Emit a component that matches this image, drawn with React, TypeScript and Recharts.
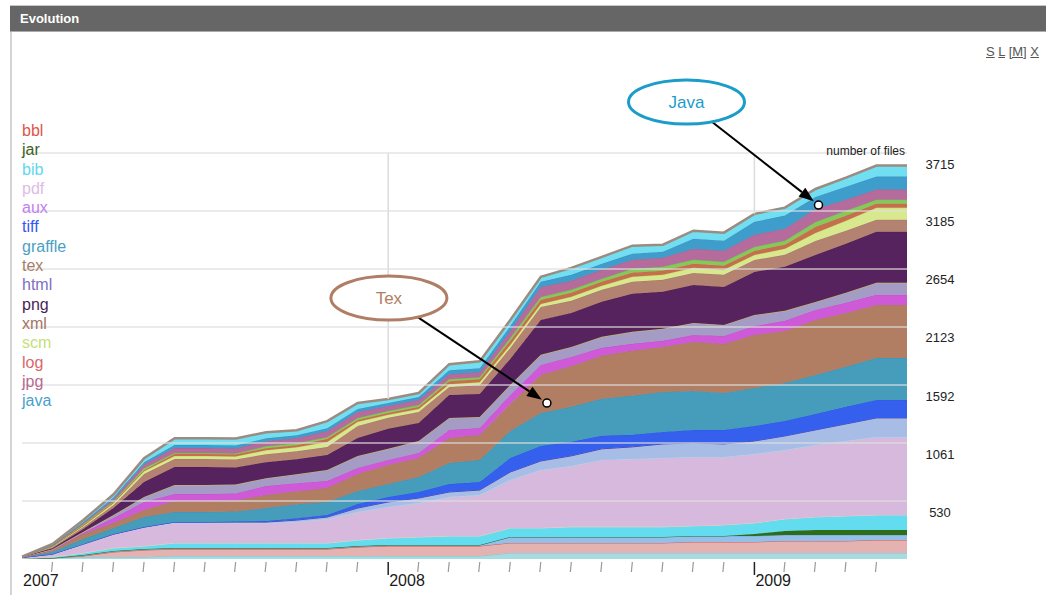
import React from "react";
import { AreaChart, Area, XAxis, YAxis, ReferenceLine, ReferenceDot } from "recharts";

// one point per month, Jan 2007 .. Jun 2009
const months = [
  "2007-01", "2007-02", "2007-03", "2007-04", "2007-05", "2007-06",
  "2007-07", "2007-08", "2007-09", "2007-10", "2007-11", "2007-12",
  "2008-01", "2008-02", "2008-03", "2008-04", "2008-05", "2008-06",
  "2008-07", "2008-08", "2008-09", "2008-10", "2008-11", "2008-12",
  "2009-01", "2009-02", "2009-03", "2009-04", "2009-05", "2009-06",
];
const yTicks = [530, 1061, 1592, 2123, 2654, 3185, 3715];

// number of files per type, bottom of the stack first
const misc1 = [5, 9, 18, 18, 18, 27, 27, 27, 27, 27, 27, 27, 27, 27, 27, 27, 55, 55, 55, 55, 55, 55, 55, 55, 55, 55, 55, 55, 55, 55];
const bbl = [0, 0, 9, 46, 64, 64, 64, 64, 64, 64, 64, 82, 92, 92, 92, 92, 92, 92, 92, 92, 92, 92, 101, 101, 101, 110, 110, 110, 119, 119];
const misc2 = [0, 0, 9, 9, 9, 9, 9, 9, 9, 9, 9, 9, 9, 9, 9, 9, 55, 55, 55, 55, 55, 55, 55, 55, 55, 55, 55, 55, 46, 46];
const jar = [0, 0, 0, 0, 0, 0, 0, 0, 0, 0, 0, 0, 0, 0, 0, 0, 0, 0, 0, 0, 0, 0, 0, 0, 18, 37, 46, 46, 46, 46];
const bib = [0, 9, 18, 27, 27, 46, 46, 46, 46, 46, 46, 55, 64, 73, 82, 82, 82, 82, 92, 92, 92, 92, 92, 101, 101, 110, 119, 128, 137, 137];
const pdf = [9, 27, 82, 128, 174, 183, 183, 183, 183, 192, 220, 256, 284, 311, 357, 375, 439, 531, 558, 613, 622, 631, 631, 622, 631, 631, 659, 686, 714, 714];
const misc3 = [0, 0, 0, 0, 0, 9, 9, 9, 9, 18, 18, 37, 46, 46, 46, 46, 73, 82, 92, 101, 110, 128, 128, 119, 119, 128, 137, 156, 174, 174];
const tiff = [0, 0, 0, 0, 0, 0, 0, 5, 9, 18, 18, 37, 46, 55, 73, 73, 128, 137, 128, 119, 110, 110, 119, 128, 137, 137, 146, 156, 165, 165];
const graffle = [2, 18, 46, 55, 92, 92, 92, 92, 119, 128, 119, 119, 119, 137, 192, 201, 247, 302, 320, 339, 357, 366, 357, 339, 348, 348, 357, 366, 384, 384];
const tex = [2, 18, 46, 46, 64, 101, 101, 101, 119, 119, 128, 156, 174, 174, 229, 229, 247, 348, 375, 393, 412, 412, 448, 448, 485, 476, 503, 494, 485, 485];
const aux = [0, 0, 9, 46, 73, 64, 64, 64, 82, 73, 64, 55, 46, 46, 73, 64, 82, 92, 82, 73, 64, 55, 64, 73, 82, 92, 92, 92, 92, 92];
const html = [0, 9, 9, 27, 46, 82, 82, 82, 73, 82, 101, 110, 101, 110, 110, 101, 92, 92, 92, 101, 110, 110, 110, 101, 101, 92, 73, 92, 110, 110];
const png = [2, 9, 27, 64, 137, 165, 165, 156, 146, 137, 137, 165, 183, 165, 210, 210, 238, 320, 311, 320, 348, 339, 348, 348, 393, 403, 430, 448, 467, 467];
const xml = [0, 9, 18, 27, 73, 73, 73, 73, 73, 73, 73, 110, 101, 101, 73, 82, 101, 119, 110, 110, 110, 110, 110, 110, 110, 110, 128, 119, 110, 110];
const scm = [0, 5, 9, 18, 27, 27, 27, 27, 37, 37, 46, 37, 27, 27, 27, 27, 27, 27, 37, 37, 46, 46, 46, 46, 46, 55, 73, 92, 110, 110];
const log = [0, 5, 9, 9, 9, 18, 18, 18, 18, 18, 27, 18, 18, 18, 27, 27, 37, 37, 37, 37, 37, 37, 37, 37, 37, 37, 55, 46, 37, 37];
const misc4 = [0, 0, 9, 9, 18, 9, 9, 9, 18, 18, 18, 18, 18, 18, 18, 18, 27, 27, 27, 27, 37, 37, 37, 37, 37, 37, 46, 46, 37, 37];
const jpg = [0, 5, 9, 18, 37, 46, 46, 46, 46, 46, 55, 55, 46, 46, 46, 46, 64, 92, 82, 82, 82, 82, 101, 101, 110, 110, 119, 101, 92, 92];
const java = [0, 5, 9, 18, 18, 27, 27, 27, 27, 27, 27, 27, 27, 27, 37, 37, 46, 46, 55, 55, 55, 55, 92, 92, 119, 119, 110, 119, 119, 119];
const misc5 = [2, 9, 18, 27, 37, 64, 64, 64, 55, 46, 64, 55, 37, 37, 55, 64, 55, 46, 64, 64, 73, 64, 73, 73, 73, 73, 73, 82, 101, 101];

const legendNames = ["bbl", "jar", "bib", "pdf", "aux", "tiff", "graffle", "tex", "html", "png", "xml", "scm", "log", "jpg", "java"];
const legendColors = ["#df5548", "#3d5f1e", "#62d8ee", "#dbbde5", "#c27ff0", "#3556f5", "#4a9fc5", "#a57e66", "#7d6fc4", "#4b1f55", "#a5735f", "#c6e07a", "#d7696b", "#b8688e", "#4b9fcc"];

const series = [
  { key: "misc1", values: misc1, fill: "#a6dbe2", stroke: "#7cc8d3" },
  { key: "bbl", values: bbl, fill: "#e4b3b1", stroke: "#d0524c" },
  { key: "misc2", values: misc2, fill: "#93bfe9", stroke: "#6aa6e0" },
  { key: "jar", values: jar, fill: "#2e6c18", stroke: "#2e6c18" },
  { key: "bib", values: bib, fill: "#62dcee", stroke: "#e2d6b8" },
  { key: "pdf", values: pdf, fill: "#d6b9dd", stroke: "#a9d8ec" },
  { key: "misc3", values: misc3, fill: "#a8bde6", stroke: "#5b3f98" },
  { key: "tiff", values: tiff, fill: "#3560ee", stroke: "#2b55e8" },
  { key: "graffle", values: graffle, fill: "#459dbb", stroke: "#3f93b2" },
  { key: "tex", values: tex, fill: "#b17e64", stroke: "#a87560" },
  { key: "aux", values: aux, fill: "#cf5ad8", stroke: "#c04fd0" },
  { key: "html", values: html, fill: "#a49cc4", stroke: "#c9c24a" },
  { key: "png", values: png, fill: "#57235f", stroke: "#4b1d52" },
  { key: "xml", values: xml, fill: "#b38270", stroke: "#a67665" },
  { key: "scm", values: scm, fill: "#d7e88f", stroke: "#c8dd6a" },
  { key: "log", values: log, fill: "#c4704c", stroke: "#d95f4f" },
  { key: "misc4", values: misc4, fill: "#86c85a", stroke: "#62c840" },
  { key: "jpg", values: jpg, fill: "#b56b9b", stroke: "#a95e90" },
  { key: "java", values: java, fill: "#3f9dcb", stroke: "#3a93c2" },
  { key: "misc5", values: misc5, fill: "#72def1", stroke: "#9c8b80" },
];

const data = months.map((month, i) => {
  const row: Record<string, number | string> = { idx: i, month };
  series.forEach((s) => (row[s.key] = s.values[i]));
  return row;
});

const totals = months.map((_, i) => series.reduce((sum, s) => sum + s.values[i], 0));
const yearStarts = months.map((m, i) => (m.endsWith("-01") ? i : -1)).filter((i) => i > 0);

const FONT = "'Liberation Sans', Arial, sans-serif";

function MonthTick(props: any) {
  const { x, y, payload } = props;
  const m = months[payload.value];
  const isYear = m.endsWith("-01");
  return (
    <g>
      {payload.value > 0 && (
        <line
          x1={x}
          y1={y - 5}
          x2={isYear ? x : x - 1}
          y2={isYear ? y + 8 : y + 5}
          stroke={isYear ? "#222" : "#999"}
          strokeWidth={isYear ? 1.5 : 1.2}
        />
      )}
      {isYear && (
        <text x={x + 1} y={y + 19} fontSize={16} fill="#1a1a1a" fontFamily={FONT}>
          {m.slice(0, 4)}
        </text>
      )}
    </g>
  );
}

function ValueTick(props: any) {
  const { x, y, payload } = props;
  return (
    <text x={x + 25} y={y + 11} textAnchor="middle" dominantBaseline="central" fontSize={13} fill="#222" fontFamily={FONT}>
      {payload.value}
    </text>
  );
}

function callout(label: string, color: string, dx: number, dy: number) {
  return (props: any) => {
    const { cx, cy } = props;
    const ex = cx + dx;
    const ey = cy + dy;
    const rx = 58;
    const ry = 22;
    const t = Math.atan2((cy - ey) / ry, (cx - ex) / rx);
    const sx = ex + rx * Math.cos(t);
    const sy = ey + ry * Math.sin(t);
    const a = Math.atan2(cy - sy, cx - sx);
    const tipX = cx - 6 * Math.cos(a);
    const tipY = cy - 6 * Math.sin(a);
    const bx = tipX - 15 * Math.cos(a);
    const by = tipY - 15 * Math.sin(a);
    const px = -Math.sin(a) * 5.5;
    const py = Math.cos(a) * 5.5;
    return (
      <g>
        <line x1={sx} y1={sy} x2={bx} y2={by} stroke="#000" strokeWidth={2} />
        <polygon points={`${tipX},${tipY} ${bx + px},${by + py} ${bx - px},${by - py}`} fill="#000" />
        <circle cx={cx} cy={cy} r={4} fill="#fff" stroke="#000" strokeWidth={1.5} />
        <ellipse cx={ex} cy={ey} rx={rx} ry={ry} fill="#fff" stroke={color} strokeWidth={3} />
        <text x={ex} y={ey} textAnchor="middle" dominantBaseline="central" fontSize={17} fill={color} fontFamily={FONT}>
          {label}
        </text>
      </g>
    );
  };
}

export default function App() {
  return (
    <div style={{ position: "absolute", left: 0, top: 0, width: 1046, height: 595, background: "#fff", fontFamily: FONT, overflow: "hidden" }}>
      <div style={{ position: "absolute", left: 10, top: 5, width: 1036, height: 27, background: "#666", borderTop: "1px solid #c8c8c8", borderBottom: "1px solid #aaa", boxSizing: "border-box" }}>
        <span style={{ position: "absolute", left: 10, top: 5, color: "#fff", fontWeight: "bold", fontSize: 13 }}>Evolution</span>
      </div>
      <div style={{ position: "absolute", left: 10, top: 32, width: 2, height: 563, background: "#d4d4d4" }} />

      <div style={{ position: "absolute", top: 0, left: 0 }}>
        <AreaChart width={1046} height={595} data={data} margin={{ top: 153, right: 0, left: 22, bottom: 0 }}>
          <XAxis
            dataKey="idx"
            type="number"
            domain={[0, months.length - 1]}
            ticks={months.slice(0, months.length - 1).map((_, i) => i)}
            interval={0}
            axisLine={false}
            tickLine={false}
            height={36}
            tick={<MonthTick />}
          />
          <YAxis
            orientation="right"
            width={139}
            domain={[0, 3715]}
            ticks={yTicks}
            allowDataOverflow
            axisLine={false}
            tickLine={false}
            tick={<ValueTick />}
          />
          {series.map((s) => (
            <Area
              key={s.key}
              type="linear"
              dataKey={s.key}
              stackId="files"
              fill={s.fill}
              fillOpacity={1}
              stroke={s.stroke}
              strokeWidth={s.key === "misc5" ? 2.5 : 1}
              dot={false}
              activeDot={false}
              isAnimationActive={false}
            />
          ))}
          {yearStarts.map((i) => (
            <ReferenceLine
              key={"yr" + i}
              segment={[{ x: i, y: 3715 }, { x: i, y: totals[i] }]}
              stroke="#dcdcdc"
              strokeWidth={1.5}
            />
          ))}
          {yTicks.map((v) => (
            <ReferenceLine key={v} y={v} stroke="rgba(222,222,222,0.6)" strokeWidth={2} />
          ))}
          <ReferenceDot x={17.2} y={1427} r={4} shape={callout("Tex", "#b07e64", -158, -105)} />
          <ReferenceDot x={26.1} y={3239} r={4} shape={callout("Java", "#1b9cc9", -132, -103)} />
        </AreaChart>
      </div>

      <div style={{ position: "absolute", left: 22, top: 121, fontSize: 16, lineHeight: "19.3px" }}>
        {legendNames.map((n, i) => (
          <div key={n} style={{ color: legendColors[i] }}>{n}</div>
        ))}
      </div>
      <div style={{ position: "absolute", right: 141, top: 144, fontSize: 12, color: "#222" }}>number of files</div>
      <div style={{ position: "absolute", left: 986, top: 44, fontSize: 13, color: "#555" }}>
        <u>S</u> <u>L</u> <u>[M]</u> <u>X</u>
      </div>
    </div>
  );
}
